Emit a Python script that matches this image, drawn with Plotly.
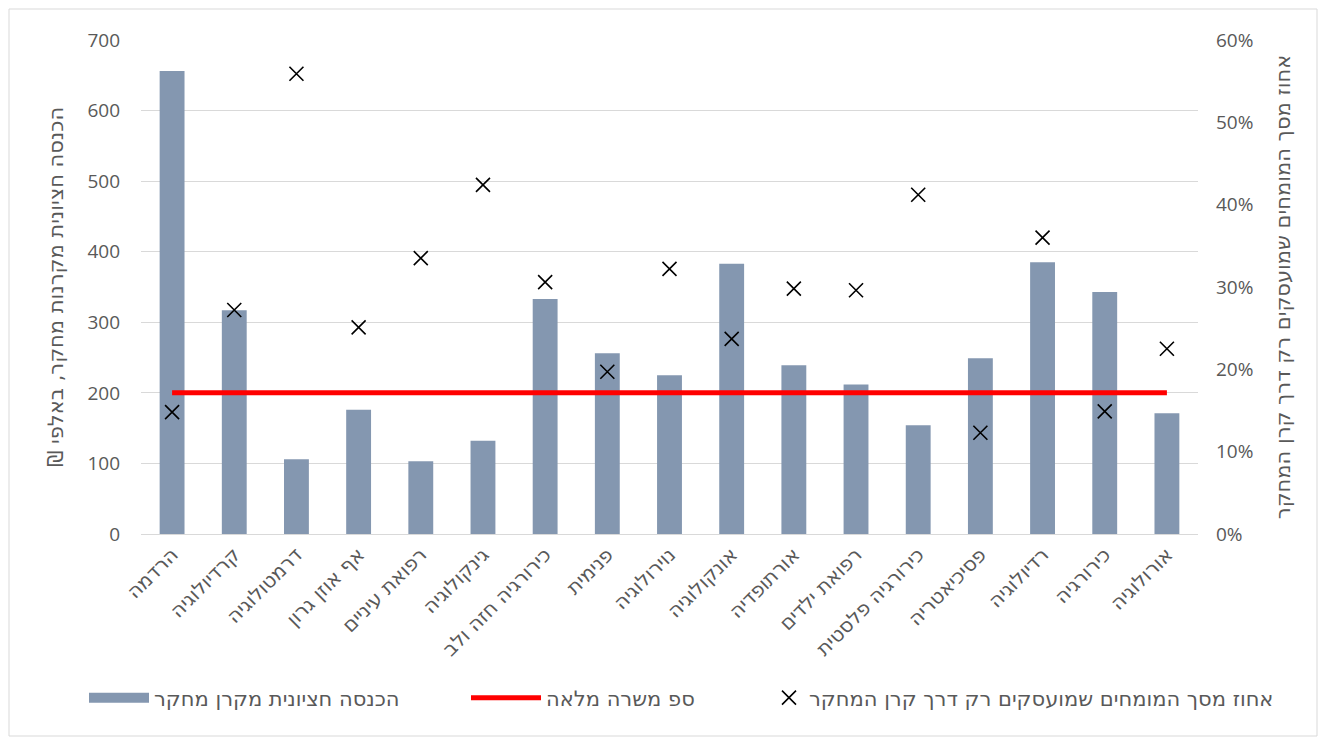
import plotly.graph_objects as go

categories = ["הרדמה", "קרדיולוגיה", "דרמטולוגיה", "אף אוזן גרון", "רפואת עיניים", "גינקולוגיה",
              "כירורגיה חזה ולב", "פנימית", "נוירולוגיה", "אונקולוגיה", "אורתופדיה", "רפואת ילדים",
              "כירורגיה פלסטית", "פסיכיאטריה", "רדיולוגיה", "כירורגיה", "אורולוגיה"]
median_income = [656, 317, 106, 176, 103, 132, 333, 256, 225, 383, 239, 212, 154, 249, 385, 343, 171]
full_time_threshold = [200] * len(categories)
pct_only_fund = [0.148, 0.272, 0.559, 0.251, 0.335, 0.424, 0.306, 0.197, 0.322, 0.237, 0.298, 0.296,
                 0.412, 0.123, 0.360, 0.149, 0.225]

name_bar = "הכנסה חציונית מקרן מחקר"
name_line = "ספ משרה מלאה"
name_marker = "אחוז מסך המומחים שמועסקים רק דרך קרן המחקר"
left_title = "הכנסה חציונית מקרנות מחקר, באלפי ₪\u200f"
right_title = "אחוז מסך המומחים שמועסקים רק דרך קרן המחקר"

HEB = "DejaVu Sans, Open Sans, sans-serif"
NUM = "Open Sans, DejaVu Sans, sans-serif"
TXT = "#595959"
BAR_COLOR = "#8497B0"

fig = go.Figure()
fig.add_trace(go.Bar(x=categories, y=median_income, name=name_bar, marker_color=BAR_COLOR,
                     marker_line_width=0, width=0.4, showlegend=False))
# legend entry for the bars (wide swatch like the original)
fig.add_trace(go.Scatter(x=[None], y=[None], name=name_bar, mode="lines",
                         line=dict(color=BAR_COLOR, width=14), legend="legend", showlegend=True,
                         hoverinfo="skip"))
fig.add_trace(go.Scatter(x=categories, y=full_time_threshold, name=name_line, mode="lines",
                         line=dict(color="#FF0000", width=5), legend="legend2", showlegend=True))
fig.add_trace(go.Scatter(x=categories, y=pct_only_fund, name=name_marker, mode="markers", yaxis="y2",
                         marker=dict(symbol="x-thin-open", size=14, color="black",
                                     line=dict(color="black", width=1.6)),
                         legend="legend3", showlegend=True))

W, H = 1326, 745
L, R, T, B = 141, 128, 40, 211
pw, ph = W - L - R, H - T - B

def px(p):
    return (p - L) / pw

def py(p):
    return (H - B - p) / ph

legend_common = dict(orientation="h", yanchor="middle", xanchor="left", y=py(698),
                     font=dict(family=HEB, size=21, color=TXT), bgcolor="rgba(0,0,0,0)")

fig.update_layout(
    width=W, height=H,
    margin=dict(l=L, r=R, t=T, b=B),
    paper_bgcolor="white", plot_bgcolor="white",
    font=dict(family=HEB, color=TXT, size=16),
    showlegend=True,
    xaxis=dict(type="category", range=[-0.5, len(categories) - 0.5], showgrid=False, tickangle=-45,
               tickfont=dict(family=HEB, size=20, color=TXT),
               showline=True, linecolor="#D9D9D9", linewidth=1, ticks="", zeroline=False),
    yaxis=dict(range=[0, 700], dtick=100, showgrid=True, gridcolor="#D9D9D9", gridwidth=1,
               zeroline=False, tickfont=dict(family=NUM, size=19, color=TXT), ticklabelstandoff=20,
               title=dict(text=left_title, font=dict(family=HEB, size=21, color=TXT), standoff=18)),
    yaxis2=dict(range=[0, 0.6], dtick=0.1, tickformat=".0%", overlaying="y", side="right",
                showgrid=False, zeroline=False, tickfont=dict(family=NUM, size=19, color=TXT),
                ticklabelstandoff=17,
                title=dict(text=right_title, font=dict(family=HEB, size=21, color=TXT), standoff=22)),
    legend=dict(legend_common, x=px(84), itemwidth=60),
    legend2=dict(legend_common, x=px(466), itemwidth=70),
    legend3=dict(legend_common, x=px(769)),
    shapes=[dict(type="rect", xref="paper", yref="paper", x0=px(9), x1=px(1317), y0=py(736), y1=py(9),
                 line=dict(color="#D9D9D9", width=1), fillcolor="rgba(0,0,0,0)", layer="below")],
)

fig.write_html("out.html")
